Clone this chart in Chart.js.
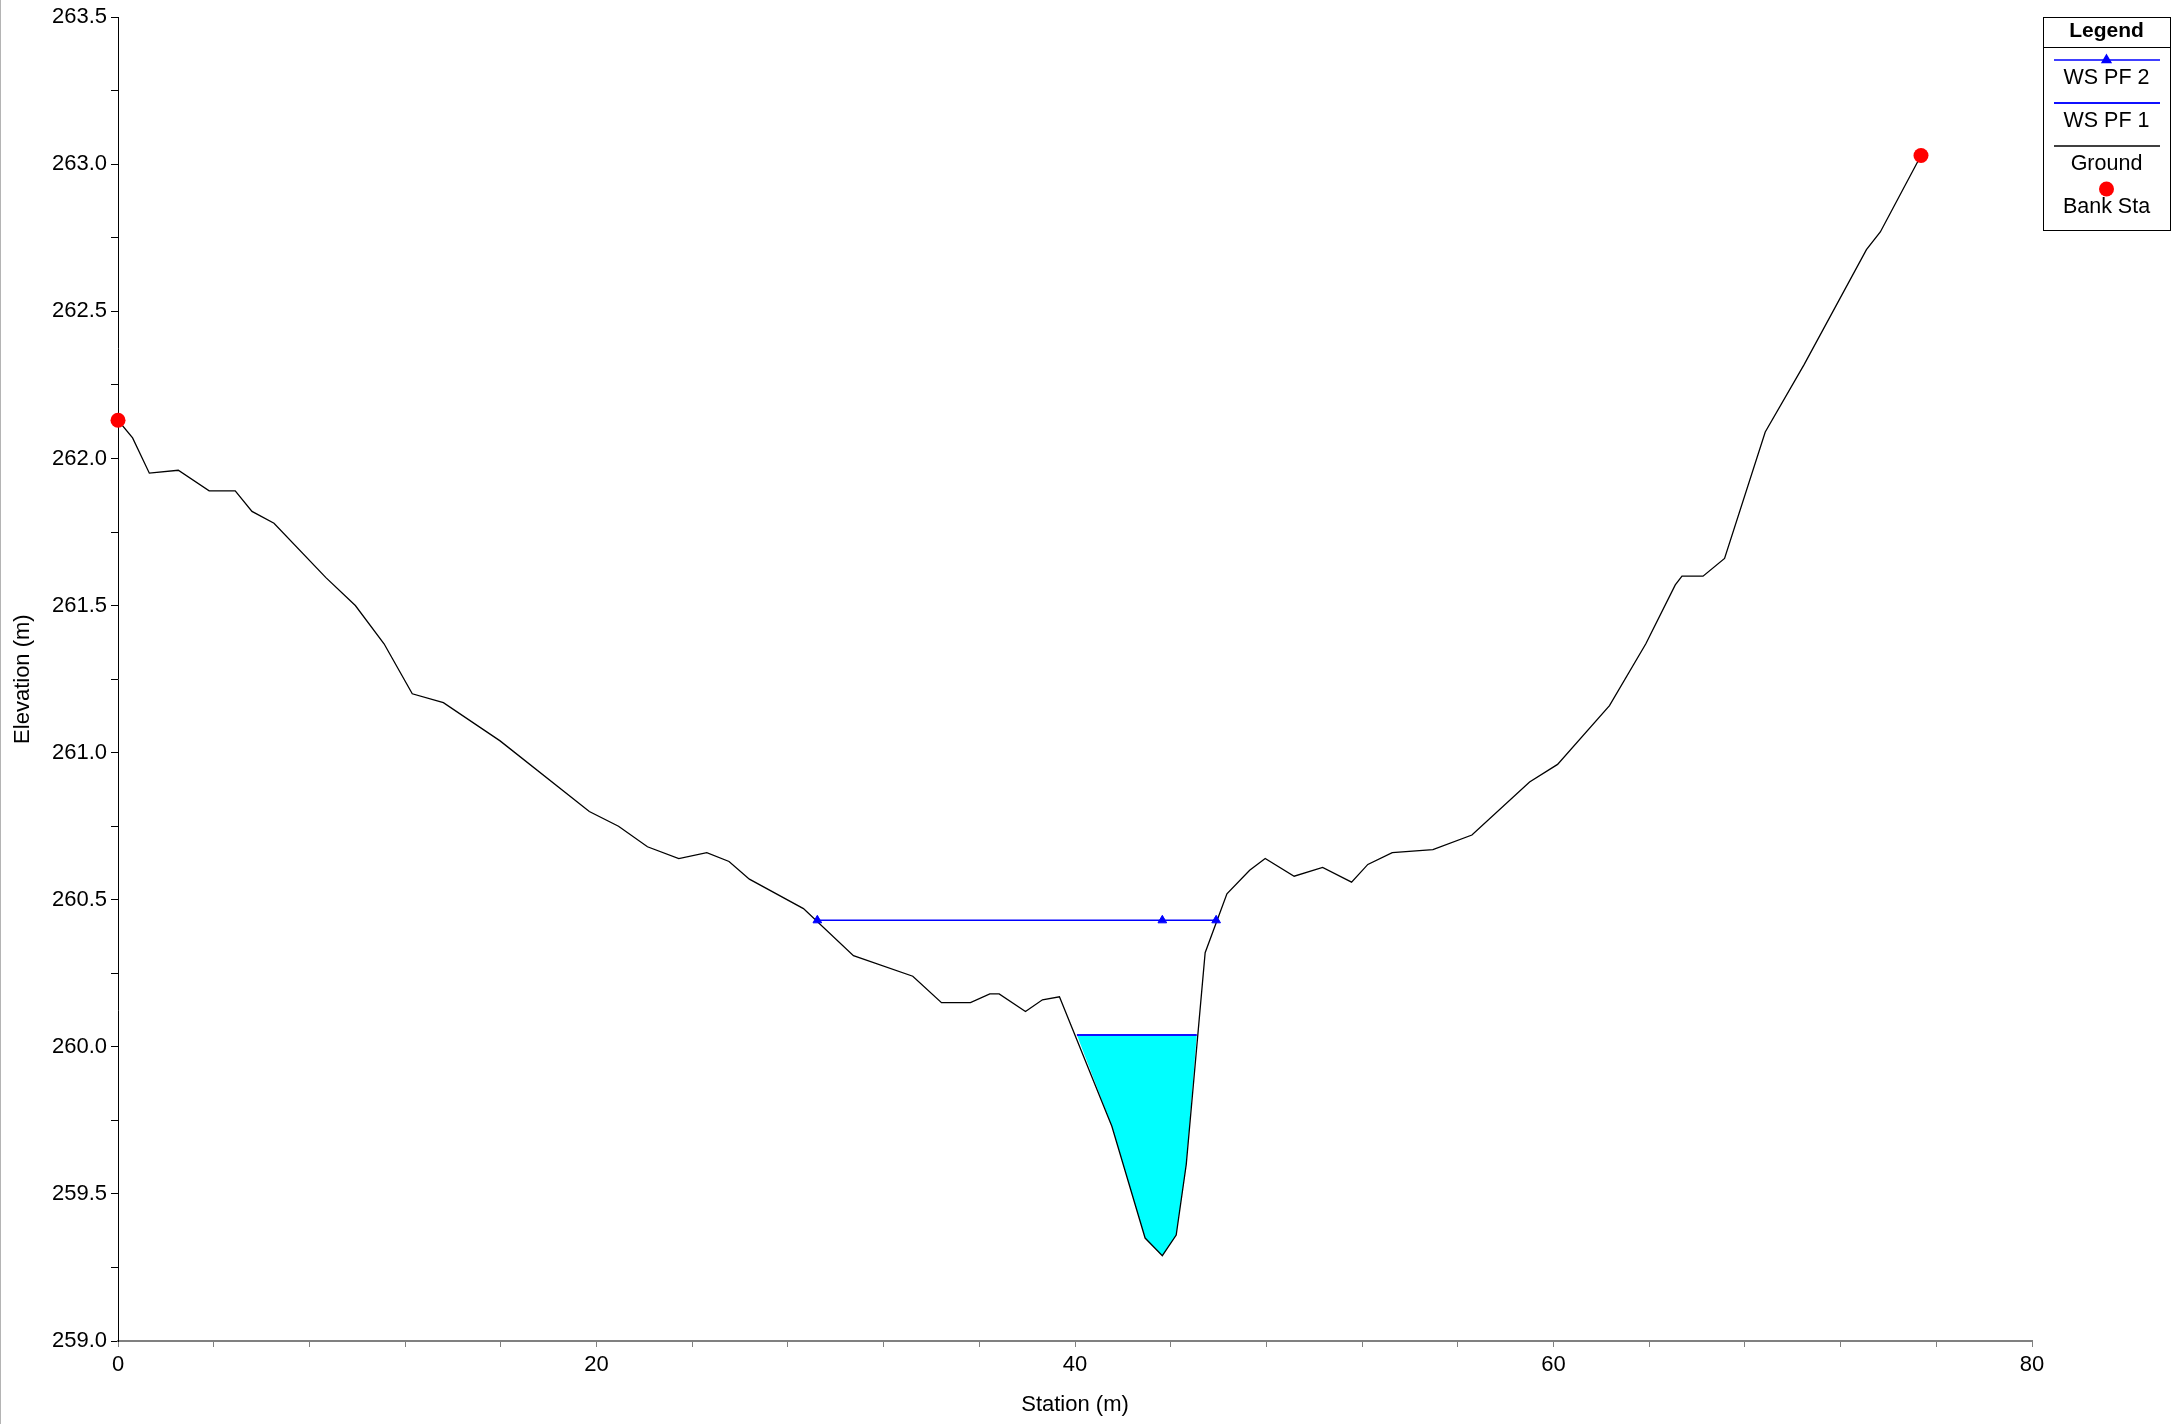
<!DOCTYPE html>
<html lang="en">
<head>
<meta charset="UTF-8">
<title>Cross Section</title>
<script src="https://cdn.jsdelivr.net/npm/chart.js"></script>
<style>
  html, body { margin: 0; padding: 0; background: #fff; }
  canvas { display: block; }
</style>
</head>
<body>
<canvas id="xsChart" width="2179" height="1424"></canvas>
<script>
  // ground profile (station m / elevation m)
  const groundStation = [0.00, 0.61, 1.31, 2.52, 3.81, 4.90, 5.60, 6.52, 8.69, 9.92,
    11.12, 12.30, 13.60, 15.97, 19.70, 20.92, 22.13, 23.44, 24.61, 25.54,
    26.39, 28.65, 30.74, 33.22, 34.42, 35.63, 36.44, 36.83, 37.93, 38.64,
    39.35, 41.54, 42.93, 43.65, 44.23, 44.65, 45.44, 46.35, 47.30, 47.95,
    49.16, 50.35, 51.56, 52.24, 53.26, 54.96, 56.59, 59.00, 60.17, 62.34,
    63.86, 65.09, 65.37, 66.25, 67.15, 68.85, 70.48, 73.08, 73.66, 75.36];
  const groundElev = [262.13, 262.07, 261.95, 261.96, 261.89, 261.89, 261.82, 261.78, 261.595, 261.50,
    261.37, 261.20, 261.17, 261.04, 260.80, 260.75, 260.68, 260.64, 260.66, 260.63,
    260.57, 260.47, 260.31, 260.24, 260.15, 260.15, 260.18, 260.18, 260.12, 260.16,
    260.17, 259.73, 259.35, 259.29, 259.36, 259.60, 260.32, 260.52, 260.60, 260.64,
    260.58, 260.61, 260.56, 260.62, 260.66, 260.67, 260.72, 260.90, 260.96, 261.16,
    261.37, 261.57, 261.60, 261.60, 261.66, 262.09, 262.32, 262.71, 262.77, 263.03];

  const bankStation = [0.00, 75.36];
  const bankElev = [262.13, 263.03];

  const wsPf2Elev = 260.43;
  const wsPf2Station = [29.23, 43.65, 45.90];

  const wsPf1Elev = 260.04;
  const wsPf1Station = [40.08, 45.09];

  const xTickLabels = [0, 20, 40, 60, 80];
  const yTickLabels = [259.0, 259.5, 260.0, 260.5, 261.0, 261.5, 262.0, 262.5, 263.0, 263.5];

  const legendOrder = ['WS PF 2', 'WS PF 1', 'Ground', 'Bank Sta'];

  const FONT = "'Liberation Sans', Arial, sans-serif";
  Chart.defaults.font.family = FONT;
  Chart.defaults.font.size = 22;
  Chart.defaults.color = '#000';

  // water below WS PF 1: the WS line plus the ground points under it
  const water = [{ x: wsPf1Station[0], y: wsPf1Elev }];
  groundStation.forEach((s, i) => {
    if (s > wsPf1Station[0] && s < wsPf1Station[1]) water.push({ x: s, y: groundElev[i] });
  });
  water.push({ x: wsPf1Station[1], y: wsPf1Elev });

  const near = (list, v) => list.some(t => Math.abs(t - v) < 1e-6);

  const legendBox = {
    id: 'legendBox',
    afterDraw(chart) {
      const ctx = chart.ctx;
      const x0 = 2043, x1 = 2170, y0 = 17, y1 = 230, cx = (x0 + x1) / 2;
      ctx.save();
      // thin window edge on the far left
      ctx.strokeStyle = '#b4b4b4';
      ctx.lineWidth = 1;
      ctx.beginPath(); ctx.moveTo(0.5, 0); ctx.lineTo(0.5, chart.height); ctx.stroke();

      ctx.fillStyle = '#fff';
      ctx.fillRect(x0, y0, x1 - x0, y1 - y0);
      ctx.strokeStyle = '#000';
      ctx.strokeRect(x0 + 0.5, y0 + 0.5, x1 - x0, y1 - y0);
      ctx.beginPath(); ctx.moveTo(x0, 47.5); ctx.lineTo(x1, 47.5); ctx.stroke();

      ctx.fillStyle = '#000';
      ctx.textAlign = 'center';
      ctx.textBaseline = 'middle';
      ctx.font = 'bold 21px ' + FONT;
      ctx.fillText('Legend', cx, 31);

      ctx.font = '21.5px ' + FONT;
      legendOrder.forEach((label, i) => {
        const ds = chart.data.datasets.find(d => d.label === label);
        const top = 47 + i * 43;
        const sy = top + 13;
        if (ds.showLine) {
          ctx.strokeStyle = ds.borderColor;
          ctx.lineWidth = ds.borderWidth;
          ctx.beginPath(); ctx.moveTo(2054, sy); ctx.lineTo(2160, sy); ctx.stroke();
        }
        if (ds.pointRadius > 0) {
          ctx.fillStyle = ds.pointBackgroundColor;
          ctx.strokeStyle = ds.pointBorderColor || ds.pointBackgroundColor;
          Chart.helpers.drawPoint(ctx, {
            pointStyle: ds.pointStyle || 'circle',
            radius: ds.pointRadius,
            borderWidth: ds.pointBorderWidth || 0,
            rotation: 0
          }, cx, sy);
        }
        ctx.fillStyle = '#000';
        ctx.fillText(label, cx, top + 31);
      });
      ctx.restore();
    }
  };

  new Chart(document.getElementById('xsChart'), {
    type: 'scatter',
    data: {
      datasets: [
        {
          label: 'Bank Sta',
          data: bankStation.map((s, i) => ({ x: s, y: bankElev[i] })),
          showLine: false,
          pointRadius: 7.5,
          pointBackgroundColor: '#ff0000',
          pointBorderWidth: 0,
          clip: false,
          order: 0
        },
        {
          label: 'WS PF 2',
          data: wsPf2Station.map(s => ({ x: s, y: wsPf2Elev })),
          showLine: true,
          borderColor: '#0000ff',
          borderWidth: 1.5,
          pointStyle: 'triangle',
          pointRadius: 5,
          pointBackgroundColor: '#0000ff',
          pointBorderColor: '#0000ff',
          pointBorderWidth: 1,
          order: 1
        },
        {
          label: 'WS PF 1',
          data: wsPf1Station.map(s => ({ x: s, y: wsPf1Elev })),
          showLine: true,
          borderColor: '#1010ff',
          borderWidth: 2,
          pointRadius: 0,
          order: 2
        },
        {
          label: 'Ground',
          data: groundStation.map((s, i) => ({ x: s, y: groundElev[i] })),
          showLine: true,
          borderColor: '#000',
          borderWidth: 1.3,
          pointRadius: 0,
          order: 3
        },
        {
          label: 'water',
          data: water,
          showLine: true,
          borderWidth: 0,
          backgroundColor: '#00ffff',
          fill: 'shape',
          pointRadius: 0,
          order: 4
        }
      ]
    },
    options: {
      responsive: false,
      animation: false,
      events: [],
      layout: { padding: { top: 17, right: 147, left: 0, bottom: 0 } },
      plugins: {
        legend: { display: false },
        tooltip: { enabled: false }
      },
      scales: {
        x: {
          type: 'linear',
          min: 0,
          max: 80,
          afterFit: s => { s.height = 83; },
          ticks: {
            stepSize: 4,
            autoSkip: false,
            maxRotation: 0,
            padding: 5,
            callback: v => near(xTickLabels, v) ? String(v) : ''
          },
          grid: { drawOnChartArea: false, tickLength: 6, color: '#808080' },
          border: { color: '#808080', width: 2 },
          title: { display: true, text: 'Station (m)', font: { size: 22 }, padding: { top: 0, bottom: 6 } }
        },
        y: {
          type: 'linear',
          min: 259,
          max: 263.5,
          afterFit: s => { s.width = 118; },
          ticks: {
            stepSize: 0.25,
            autoSkip: false,
            padding: 4,
            callback: v => near(yTickLabels, v) ? v.toFixed(1) : ''
          },
          grid: { drawOnChartArea: false, tickLength: 7, color: '#000' },
          border: { color: '#000', width: 1 },
          title: { display: true, text: 'Elevation (m)', font: { size: 22 }, padding: { top: 10, bottom: 0 } }
        }
      }
    },
    plugins: [legendBox]
  });
</script>
</body>
</html>
